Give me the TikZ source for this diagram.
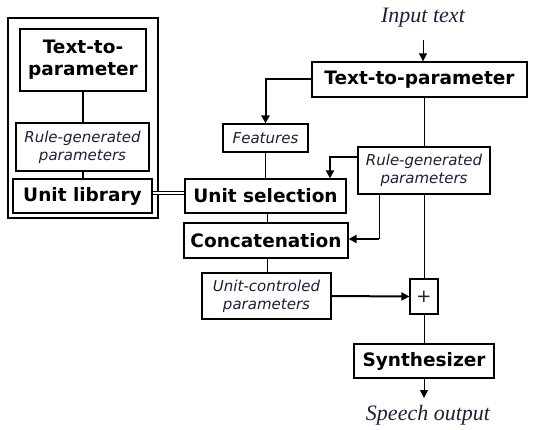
\documentclass[tikz,border=0pt]{standalone}
\usepackage{fontspec}
\setmainfont{DejaVu Sans}
\newfontfamily\serifit{Liberation Serif}
\usetikzlibrary{arrows.meta,calc}
\definecolor{navy}{RGB}{30,30,60}
\begin{document}
\begin{tikzpicture}[x=1pt,y=-1pt,
  box/.style={draw,line width=1.3pt,inner sep=0pt,align=center},
  bbox/.style={box,font=\bfseries\fontsize{18.5}{22}\selectfont},
  ibox/.style={box,line width=1.1pt,text=navy,font=\itshape\fontsize{15}{18}\selectfont},
  thin/.style={line width=1pt},
  thk/.style={line width=2pt},
  tip/.style={-{Triangle[length=8pt,width=8pt]}}]
\useasboundingbox (0,0) rectangle (536,429);
% left group
\node[draw,line width=1.3pt,minimum width=150pt,minimum height=200pt] (outer) at (83,118) {};
\node[bbox,minimum width=126pt,minimum height=62pt] (ltp) at (83,60) {Text-to-\\parameter};
\node[ibox,minimum width=133pt,minimum height=48pt] (lrule) at (82.5,147) {Rule-generated\\parameters};
\node[bbox,minimum width=139pt,minimum height=34pt] (ulib) at (82.5,196) {Unit library};
% main flow
\node[text=navy,font=\serifit\itshape\fontsize{22}{24}\selectfont] (input) at (423,18) {Input text};
\node[bbox,minimum width=215pt,minimum height=35pt] (tp) at (419.5,79.5) {Text-to-parameter};
\node[ibox,minimum width=85pt,minimum height=28pt] (feat) at (265.5,138) {Features};
\node[ibox,minimum width=132pt,minimum height=47pt] (rrule) at (424,170.5) {Rule-generated\\parameters};
\node[bbox,minimum width=161pt,minimum height=34pt] (usel) at (265.5,196) {Unit selection};
\node[bbox,minimum width=164pt,minimum height=35pt] (concat) at (266,240.5) {Concatenation};
\node[ibox,minimum width=129pt,minimum height=46pt] (uctrl) at (266.5,296) {Unit-controled\\parameters};
\node[box,line width=1.1pt,minimum width=28pt,minimum height=35pt,text=navy,font=\fontsize{18}{20}\selectfont] (plus) at (424,296.5) {+};
\node[bbox,minimum width=140pt,minimum height=34pt] (synth) at (424,361) {Synthesizer};
\node[text=navy,font=\serifit\itshape\fontsize{22}{24}\selectfont] (speech) at (428,415) {Speech output};
\coordinate (inend) at (423,40);
\coordinate (outend) at (424,398);
% connectors
\draw[thin,tip] (inend) -- (inend |- tp.north);
\draw[thk,tip] (tp.west |- 0,79) -| (feat.north);
\draw[thin] (feat.south) -- (feat.south |- usel.north);
\draw[thin] (rrule.north) -- (rrule.north |- tp.south);
\draw[thk,tip] (rrule.west |- 0,157) -| (usel.north -| 330,0);
\draw[thin] (rrule.south -| 379,0) -- (379,239);
\draw[thk,tip] (379,239) -- (concat.east |- 0,239);
\draw[thin] (rrule.south) -- (plus.north);
\draw[thin] (usel.south -| 267,0) -- (concat.north -| 267,0);
\draw[thin] (concat.south -| 267,0) -- (uctrl.north -| 267,0);
\draw[thk,tip] (uctrl.east) -- (plus.west);
\draw[thin] (plus.south) -- (plus.south |- synth.north);
\draw[thin,tip] (synth.south) -- (outend);
\draw[double,double distance=2.5pt,line width=0.8pt] (ulib.east |- 0,193) -- (usel.west |- 0,193);
\draw[thk] (ltp.south) -- (ltp.south |- lrule.north);
\draw[thk] (lrule.south) -- (lrule.south |- ulib.north);
\end{tikzpicture}
\end{document}
